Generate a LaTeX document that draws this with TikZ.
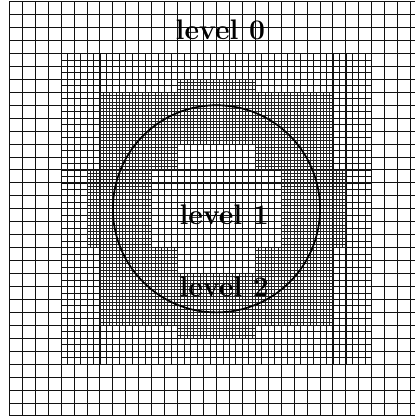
\documentclass[tikz,border=0pt]{standalone}
\usepackage{tikz}
\usepackage{xcolor}
\usetikzlibrary{positioning}
\definecolor{meshblack}{HTML}{111111}
\definecolor{meshgray}{HTML}{222222}

\begin{document}
\begin{tikzpicture}[
  x=0.4cm, y=0.4cm,
  every node/.style={font=\Huge\bfseries},
  levelzero/.style={draw=meshblack, line width=0.85pt},
  levelone/.style={draw=meshblack, line width=0.75pt},
  leveltwo/.style={draw=meshgray, line width=0.75pt},
  lvllabel/.style={anchor=base, inner sep=0pt, text=black},
]

% Frame: the right edge of the coarse mesh is cut off
\clip (-0.72, -0.08) rectangle (31.33, 32.13);

% Level 0: coarse mesh
\draw[levelzero, step=1] (0,0) grid (32,32);

% Level 1: refined box
\draw[levelone, step=0.5] (4,4) grid (28,28);

% Level 2: ring of cells round the circle
\begin{scope}[even odd rule]
  \clip
    (7,7) -- (13,7) -- (13,6) -- (19,6) -- (19,7) -- (25,7) -- (25,13) -- (26,13)
    -- (26,19) -- (25,19) -- (25,25) -- (19,25) -- (19,26) -- (13,26) -- (13,25)
    -- (7,25) -- (7,19) -- (6,19) -- (6,13) -- (7,13) -- cycle
    (13,11) -- (19,11) -- (19,13) -- (21,13) -- (21,19) -- (19,19) -- (19,21)
    -- (13,21) -- (13,19) -- (11,19) -- (11,13) -- (13,13) -- cycle;
  \draw[leveltwo, step=0.25] (6,6) grid (26,26);
\end{scope}

% Interface
\draw[line width=1.5pt] (16,16) circle (8);

% Labels
\node[lvllabel] (lvl0) at (16.3, 29.1) {level 0};
\node[lvllabel] (lvl1) at (16.6, 14.8) {level 1};
\node[lvllabel] (lvl2) at (16.6, 9.2) {level 2};

\end{tikzpicture}
\end{document}
